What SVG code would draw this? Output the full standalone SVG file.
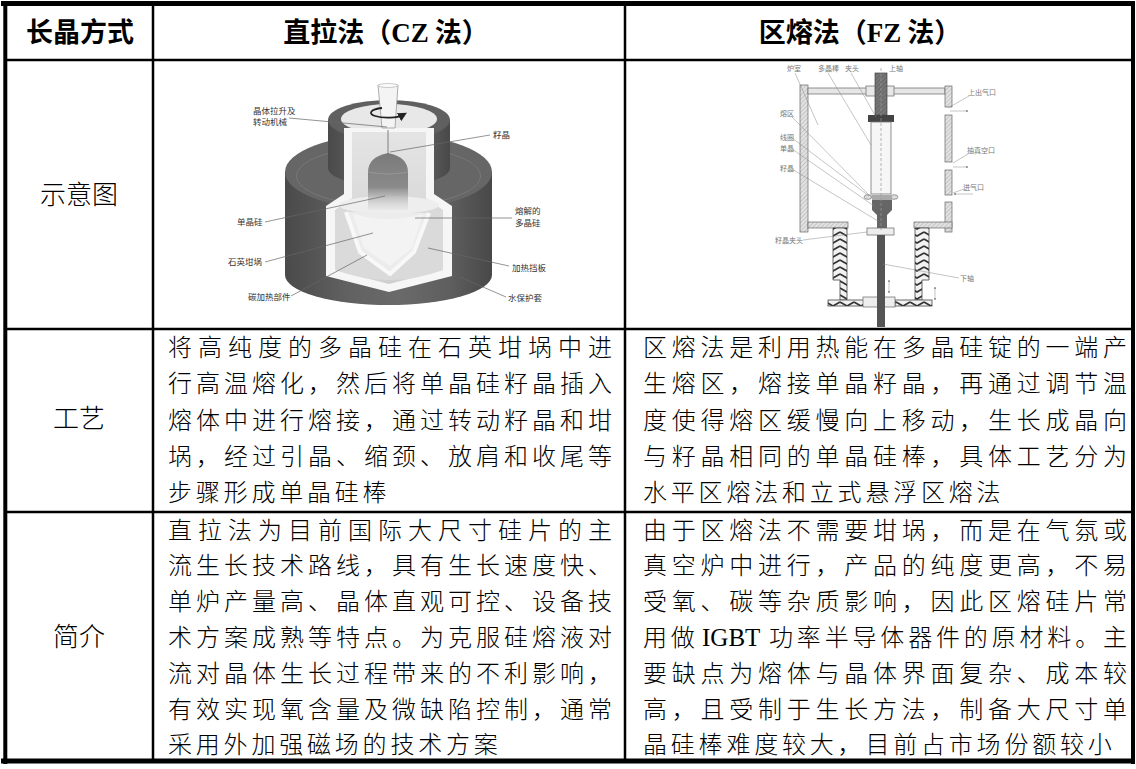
<svg xmlns="http://www.w3.org/2000/svg" width="1136" height="769" viewBox="0 0 1136 769">
<style>
.t{font-family:"Noto Sans CJK SC","Liberation Serif",sans-serif;font-size:24px;font-weight:300;fill:#000}
.nat{letter-spacing:3.8px}
.lab{font-family:"Noto Sans CJK SC",sans-serif;font-size:26px;font-weight:300;fill:#000;text-anchor:middle}
.hd{font-family:"Noto Sans CJK SC","Liberation Serif",sans-serif;font-size:27px;font-weight:bold;fill:#000;text-anchor:middle}
.lat{font-family:"Liberation Serif",serif}
.igbt{font-family:"Liberation Serif",serif;font-size:25px;fill:#000}
.g{stroke:#000;fill:none}
.czl{font-family:"Noto Sans CJK SC",sans-serif;font-size:8.5px;fill:#333}
.fzl{font-family:"Noto Sans CJK SC",sans-serif;font-size:7px;fill:#777}
.ld{stroke:#666;stroke-width:0.7;fill:none}
.ldf{stroke:#888;stroke-width:0.5;fill:none}
.wall{fill:url(#hatch);stroke:#666;stroke-width:0.7}
.zig{fill:url(#zig);stroke:#444;stroke-width:0.8}
</style>
<defs>
<linearGradient id="cyl" x1="0" y1="0" x2="1" y2="0">
<stop offset="0" stop-color="#4a4a4a"/><stop offset="0.3" stop-color="#616161"/><stop offset="0.55" stop-color="#6a6a6a"/><stop offset="0.8" stop-color="#5e5e5e"/><stop offset="1" stop-color="#484848"/>
</linearGradient>
<linearGradient id="xtal" x1="0" y1="0" x2="0" y2="1">
<stop offset="0" stop-color="#7a7a7a"/><stop offset="0.6" stop-color="#8a8a8a"/><stop offset="1" stop-color="#d8d8d8" stop-opacity="0.3"/>
</linearGradient>
<linearGradient id="inner" x1="0" y1="0" x2="0" y2="1">
<stop offset="0" stop-color="#e4e4e4"/><stop offset="1" stop-color="#cfcfcf"/>
</linearGradient>
<pattern id="hatch" width="3" height="3" patternUnits="userSpaceOnUse" patternTransform="rotate(45)">
<rect width="3" height="3" fill="#e2e2e2"/><line x1="0" y1="0" x2="0" y2="3" stroke="#999" stroke-width="0.8"/>
</pattern>
<pattern id="dark" width="3" height="3" patternUnits="userSpaceOnUse" patternTransform="rotate(45)">
<rect width="3" height="3" fill="#777"/><line x1="0" y1="0" x2="0" y2="3" stroke="#555" stroke-width="1"/>
</pattern>
<pattern id="zig" width="14" height="7" patternUnits="userSpaceOnUse">
<rect width="14" height="7" fill="#f2f2f2"/><path d="M0,1 L7,5 L14,1" stroke="#333" stroke-width="1.6" fill="none"/>
</pattern>
<marker id="ah" viewBox="0 0 6 6" refX="5" refY="3" markerWidth="4" markerHeight="4" orient="auto-start-reverse">
<path d="M0,0 L6,3 L0,6 Z" fill="#666"/>
</marker>
<marker id="ahk" viewBox="0 0 6 6" refX="3" refY="3" markerWidth="5" markerHeight="5" orient="auto">
<path d="M0,0 L6,3 L0,6 Z" fill="#222"/>
</marker>
</defs>
<rect width="1136" height="769" fill="#fff"/>

<g id="cz-diagram">
<path d="M285,172 L285,275 A103.5,30 0 0 0 492,275 L492,172 Z" fill="url(#cyl)"/>
<ellipse cx="388.5" cy="172" rx="103.5" ry="38" fill="#666"/>
<ellipse cx="388.5" cy="176" rx="92" ry="30" fill="none" stroke="#777" stroke-width="1"/>
<path d="M328,120 L328,168 A61,18 0 0 0 450,168 L450,120 Z" fill="url(#cyl)"/>
<ellipse cx="389" cy="120" rx="61" ry="20" fill="#606060"/>
<ellipse cx="389" cy="119" rx="48" ry="15" fill="#e8e8e8"/>
<polygon points="344,128 434,128 434,194 452,206 452,276 389,292 326,276 326,206 344,194" fill="#f6f6f6"/>
<polygon points="352,132 426,132 426,198 443,210 443,270 389,284 335,270 335,210 352,198" fill="url(#inner)"/>
<path d="M335,212 Q389,190 443,212 L443,270 Q389,290 335,270 Z" fill="#dadada"/>
<ellipse cx="389" cy="205" rx="50" ry="9" fill="#eeeeee"/>
<path d="M346,212 L360,252 L390,274 L414,252 L429,213" fill="#ececec" stroke="#f8f8f8" stroke-width="4" stroke-linejoin="round"/>
<path d="M353,214 Q389,224 423,214 L412,248 L390,266 L364,248 Z" fill="#f3f3f3"/>
<path d="M368,172 Q368,157 388,153 Q408,157 408,172 L408,210 L368,210 Z" fill="url(#xtal)"/>
<path d="M368,172 Q388,176 408,172" fill="none" stroke="#9a9a9a" stroke-width="0.8"/>
<line x1="388" y1="130" x2="388" y2="154" stroke="#666" stroke-width="0.8"/>
<polygon points="378,85 398,85 395,128 382,128" fill="#f4f4f4" stroke="#999" stroke-width="0.8"/>
<ellipse cx="388" cy="85.5" rx="10" ry="2" fill="#fafafa" stroke="#aaa" stroke-width="0.6"/>
<path d="M382,108 A17,5 0 1 0 403,115" fill="none" stroke="#222" stroke-width="1.8" marker-end="url(#ahk)"/>
<g id="cz-labels">
<text class="czl" x="253" y="113.5">晶体拉升及</text>
<text class="czl" x="253" y="125">转动机械</text>
<text class="czl" x="493" y="138">籽晶</text>
<text class="czl" x="237" y="225">单晶硅</text>
<text class="czl" x="515" y="214">熔解的</text>
<text class="czl" x="515" y="226">多晶硅</text>
<text class="czl" x="228" y="265">石英坩埚</text>
<text class="czl" x="512" y="271">加热挡板</text>
<text class="czl" x="248" y="300">碳加热部件</text>
<text class="czl" x="508" y="301">水保护套</text>
</g>
<g id="cz-leaders">
<line class="ld" x1="289" y1="118" x2="387" y2="127"/>
<line class="ld" x1="490" y1="135" x2="390" y2="152"/>
<line class="ld" x1="265" y1="222" x2="385" y2="196"/>
<line class="ld" x1="512" y1="218" x2="415" y2="218"/>
<line class="ld" x1="265" y1="262" x2="373" y2="233"/>
<line class="ld" x1="509" y1="266" x2="428" y2="248"/>
<line class="ld" x1="291" y1="296" x2="367" y2="255"/>
<line class="ld" x1="506" y1="297" x2="460" y2="277"/>
</g>
</g>

<g id="fz-diagram">
<rect class="wall" x="800" y="85" width="8" height="147"/>
<rect x="808" y="88" width="137" height="6" fill="#e6e6e6" stroke="#666" stroke-width="0.7"/>
<rect class="wall" x="945" y="86" width="7" height="21"/>
<rect class="wall" x="945" y="115" width="7" height="47"/>
<rect class="wall" x="945" y="170" width="7" height="25"/>
<rect class="wall" x="945" y="202" width="7" height="30"/>
<rect class="wall" x="808" y="222" width="40" height="6"/>
<rect class="wall" x="914" y="222" width="38" height="6"/>
<path class="zig" d="M833,228 L847,228 L847,300 L840,300 L840,280 L833,280 Z"/>
<path class="zig" d="M915,228 L929,228 L929,280 L922,280 L922,300 L915,300 Z"/>
<rect class="zig" x="828" y="300" width="37" height="6"/>
<rect class="zig" x="895" y="300" width="37" height="6"/>
<rect x="863" y="297" width="32" height="10" fill="#eee" stroke="#666" stroke-width="0.7"/>
<rect x="866" y="86" width="28" height="10" fill="#e8e8e8" stroke="#666" stroke-width="0.7"/>
<rect x="875" y="73" width="12" height="42" fill="url(#dark)" stroke="#444" stroke-width="0.7"/>
<rect x="868" y="115" width="26" height="7" fill="#444"/>
<rect x="871" y="122" width="20" height="72" fill="#f6f6f6" stroke="#777" stroke-width="0.8"/>
<ellipse cx="868" cy="197" rx="4" ry="2.3" fill="#ddd" stroke="#666" stroke-width="0.6"/>
<ellipse cx="894" cy="197" rx="4" ry="2.3" fill="#ddd" stroke="#666" stroke-width="0.6"/>
<rect x="872" y="195" width="20" height="5" fill="#aaa"/>
<path d="M872,200 L892,200 L892,210 L887,215 L887,228 L877,228 L877,215 L872,210 Z" fill="#666"/>
<rect x="867" y="228" width="27" height="7" fill="#eee" stroke="#666" stroke-width="0.7"/>
<rect x="877" y="235" width="8" height="92" fill="#555"/>
<line x1="881" y1="68" x2="881" y2="230" stroke="#999" stroke-width="0.7" stroke-dasharray="3,2"/>
<g id="fz-labels">
<text class="fzl" x="787" y="71">炉室</text>
<text class="fzl" x="818" y="71">多晶棒</text>
<text class="fzl" x="845" y="71">夹头</text>
<text class="fzl" x="889" y="71">上轴</text>
<text class="fzl" x="968" y="95">上出气口</text>
<text class="fzl" x="780" y="116">熔区</text>
<text class="fzl" x="780" y="140">线圈</text>
<text class="fzl" x="780" y="151">单晶</text>
<text class="fzl" x="780" y="171">籽晶</text>
<text class="fzl" x="967" y="153">抽真空口</text>
<text class="fzl" x="963" y="190">进气口</text>
<text class="fzl" x="775" y="243">籽晶夹头</text>
<text class="fzl" x="960" y="281">下轴</text>
</g>
<g id="fz-leaders">
<line class="ldf" x1="795" y1="73" x2="818" y2="125"/>
<line class="ldf" x1="828" y1="73" x2="871" y2="145"/>
<line class="ldf" x1="851" y1="73" x2="876" y2="117"/>
<line class="ldf" x1="792" y1="117" x2="872" y2="198"/>
<line class="ldf" x1="792" y1="138" x2="869" y2="196"/>
<line class="ldf" x1="792" y1="149" x2="874" y2="206"/>
<line class="ldf" x1="792" y1="169" x2="878" y2="221"/>
<line class="ldf" x1="969" y1="96" x2="948" y2="108"/>
<line class="ldf" x1="968" y1="154" x2="953" y2="163"/>
<line class="ldf" x1="964" y1="189" x2="953" y2="193"/>
<line class="ldf" x1="803" y1="240" x2="867" y2="232"/>
<line class="ldf" x1="959" y1="278" x2="883" y2="264"/>
<line class="ldf" x1="950" y1="111" x2="968" y2="111" marker-end="url(#ah)"/>
<line class="ldf" x1="953" y1="167" x2="968" y2="167" marker-end="url(#ah)"/>
<line class="ldf" x1="973" y1="194" x2="954" y2="194" marker-end="url(#ah)"/>
<line class="ldf" x1="889" y1="280" x2="889" y2="293" marker-start="url(#ah)" marker-end="url(#ah)"/>
<line class="ldf" x1="935" y1="287" x2="935" y2="300" marker-start="url(#ah)" marker-end="url(#ah)"/>
</g>
</g>

<g id="grid">
<line class="g" x1="1" y1="3.5" x2="1135" y2="3.5" stroke-width="5"/>
<line class="g" x1="5.3" y1="1" x2="5.3" y2="764" stroke-width="4"/>
<line class="g" x1="1133" y1="1" x2="1133" y2="764" stroke-width="4"/>
<line class="g" x1="1" y1="761" x2="1135" y2="761" stroke-width="5"/>
<line class="g" x1="153" y1="3" x2="153" y2="761" stroke-width="2.5"/>
<line class="g" x1="625" y1="3" x2="625" y2="761" stroke-width="2.5"/>
<line class="g" x1="5" y1="60" x2="1133" y2="60" stroke-width="2.5"/>
<line class="g" x1="5" y1="329" x2="1133" y2="329" stroke-width="2.5"/>
<line class="g" x1="5" y1="512" x2="1133" y2="512" stroke-width="2.5"/>
</g>

<g id="header">
<text class="hd" x="80" y="42">长晶方式</text>
<text class="hd" x="386" y="42">直拉法（<tspan class="lat">CZ</tspan> 法）</text>
<text class="hd" x="860" y="42">区熔法（<tspan class="lat">FZ</tspan> 法）</text>
</g>

<g id="row-labels">
<text class="lab" x="79" y="204">示意图</text>
<text class="lab" x="79" y="428">工艺</text>
<text class="lab" x="79" y="646">简介</text>
</g>

<g id="cz-process">
<text class="t" x="168" y="356" textLength="444" lengthAdjust="spacing">将高纯度的多晶硅在石英坩埚中进</text>
<text class="t" x="168" y="392.25" textLength="444" lengthAdjust="spacing">行高温熔化，然后将单晶硅籽晶插入</text>
<text class="t" x="168" y="428.5" textLength="444" lengthAdjust="spacing">熔体中进行熔接，通过转动籽晶和坩</text>
<text class="t" x="168" y="464.75" textLength="444" lengthAdjust="spacing">埚，经过引晶、缩颈、放肩和收尾等</text>
<text class="t nat" x="168" y="501">步骤形成单晶硅棒</text>
</g>

<g id="fz-process">
<text class="t" x="643" y="356" textLength="484" lengthAdjust="spacing">区熔法是利用热能在多晶硅锭的一端产</text>
<text class="t" x="643" y="392.25" textLength="484" lengthAdjust="spacing">生熔区，熔接单晶籽晶，再通过调节温</text>
<text class="t" x="643" y="428.5" textLength="484" lengthAdjust="spacing">度使得熔区缓慢向上移动，生长成晶向</text>
<text class="t" x="643" y="464.75" textLength="484" lengthAdjust="spacing">与籽晶相同的单晶硅棒，具体工艺分为</text>
<text class="t nat" x="643" y="501">水平区熔法和立式悬浮区熔法</text>
</g>

<g id="cz-intro">
<text class="t" x="168" y="538.5" textLength="444" lengthAdjust="spacing">直拉法为目前国际大尺寸硅片的主</text>
<text class="t" x="168" y="574.3" textLength="444" lengthAdjust="spacing">流生长技术路线，具有生长速度快、</text>
<text class="t" x="168" y="610.1" textLength="444" lengthAdjust="spacing">单炉产量高、晶体直观可控、设备技</text>
<text class="t" x="168" y="645.9" textLength="444" lengthAdjust="spacing">术方案成熟等特点。为克服硅熔液对</text>
<text class="t" x="168" y="681.7" textLength="444" lengthAdjust="spacing">流对晶体生长过程带来的不利影响，</text>
<text class="t" x="168" y="717.5" textLength="444" lengthAdjust="spacing">有效实现氧含量及微缺陷控制，通常</text>
<text class="t nat" x="168" y="753.3">采用外加强磁场的技术方案</text>
</g>

<g id="fz-intro">
<text class="t" x="643" y="538.5" textLength="484" lengthAdjust="spacing">由于区熔法不需要坩埚，而是在气氛或</text>
<text class="t" x="643" y="574.3" textLength="484" lengthAdjust="spacing">真空炉中进行，产品的纯度更高，不易</text>
<text class="t" x="643" y="610.1" textLength="484" lengthAdjust="spacing">受氧、碳等杂质影响，因此区熔硅片常</text>
<text class="t nat" x="643" y="645.9">用做</text>
<text class="igbt" x="702" y="645.9">IGBT</text>
<text class="t" x="769" y="645.9" textLength="358" lengthAdjust="spacing">功率半导体器件的原材料。主</text>
<text class="t" x="643" y="681.7" textLength="484" lengthAdjust="spacing">要缺点为熔体与晶体界面复杂、成本较</text>
<text class="t" x="643" y="717.5" textLength="484" lengthAdjust="spacing">高，且受制于生长方法，制备大尺寸单</text>
<text class="t nat" x="643" y="753.3">晶硅棒难度较大，目前占市场份额较小</text>
</g>
</svg>
